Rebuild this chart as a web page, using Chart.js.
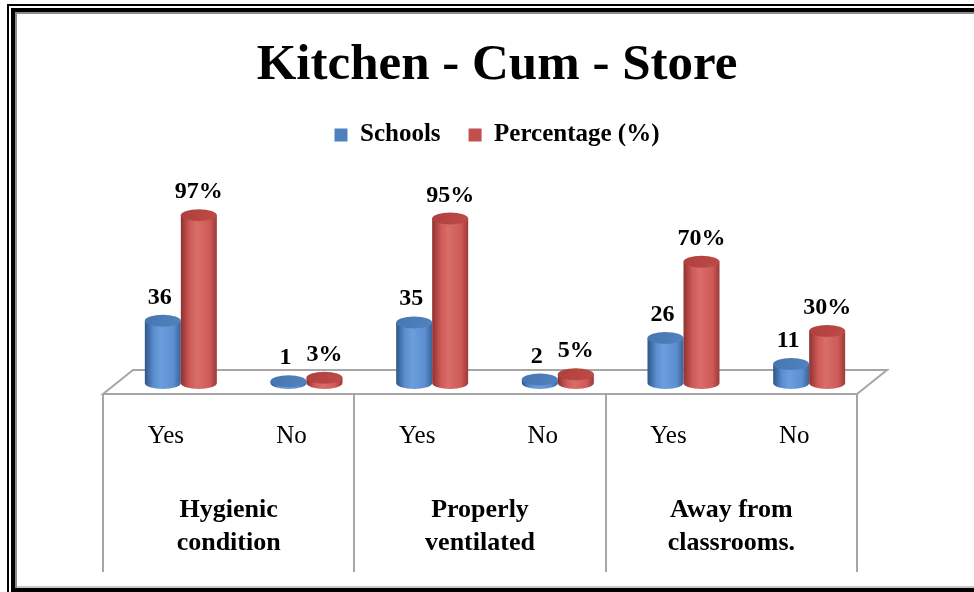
<!DOCTYPE html>
<html><head><meta charset="utf-8">
<script src="https://cdn.jsdelivr.net/npm/chart.js@4.4.1/dist/chart.umd.min.js"></script>
<style>html,body{margin:0;padding:0;background:#fff;overflow:hidden}#wrap{width:974px;height:592px;position:relative}</style>
</head><body><div id="wrap"><canvas id="c" width="974" height="592"></canvas></div>
<script>
const titleText = 'Kitchen - Cum - Store';
const answers = ['Yes', 'No', 'Yes', 'No', 'Yes', 'No'];
const groups = [['Hygienic', 'condition'], ['Properly', 'ventilated'], ['Away from', 'classrooms.']];
const seriesNames = ['Schools', 'Percentage (%)'];
const schools = [36, 1, 35, 2, 26, 11];
const percentage = [97, 3, 95, 5, 70, 30];

const SERIF = '"Liberation Serif", "DejaVu Serif", serif';
const DEPTH_X = 30, DEPTH_Y = 24, FRONT = 11;
const SHIFT = 15, RY = 6;

const framePlugin = {
  id: 'frame',
  beforeDraw(chart) {
    const ctx = chart.ctx, W = chart.width, H = chart.height;
    ctx.save();
    ctx.fillStyle = '#fff';
    ctx.fillRect(0, 0, W, H);
    ctx.fillStyle = '#000';
    ctx.fillRect(7, 4, 2, H - 4);
    ctx.fillRect(7, 4, W - 7, 2);
    ctx.fillRect(11, 8, 4, H - 8);
    ctx.fillRect(11, 8, W - 11, 4);
    ctx.fillRect(11, 588, W - 11, 4);
    ctx.fillStyle = '#8c8c8c';
    ctx.fillRect(15, 12, 2, 576);
    ctx.fillRect(15, 12, W - 15, 2);
    ctx.fillStyle = '#c8c8c8';
    ctx.fillRect(17, 586, W - 17, 2);
    ctx.restore();
  }
};

const palettes = [
  {dark: '#2f5687', mid: '#5b8fd0', light: '#6c9edc', right: '#3a6398', top: '#4676b2', topLight: '#5383bf'},
  {dark: '#8e3230', mid: '#cf5a57', light: '#d86d6a', right: '#9c3b39', top: '#b0403c', topLight: '#bd4b47'}
];

function drawCylinder(ctx, cx, top, base, rx, pal) {
  const g = ctx.createLinearGradient(cx - rx, 0, cx + rx, 0);
  g.addColorStop(0, pal.dark);
  g.addColorStop(0.25, pal.mid);
  g.addColorStop(0.45, pal.light);
  g.addColorStop(0.8, pal.mid);
  g.addColorStop(1, pal.right);
  ctx.beginPath();
  ctx.moveTo(cx - rx, top);
  ctx.lineTo(cx - rx, base);
  ctx.ellipse(cx, base, rx, RY, 0, Math.PI, 0, true);
  ctx.lineTo(cx + rx, top);
  ctx.closePath();
  ctx.fillStyle = g;
  ctx.fill();
  const tg = ctx.createLinearGradient(cx - rx, top - RY, cx + rx, top + RY);
  tg.addColorStop(0, pal.top);
  tg.addColorStop(1, pal.topLight);
  ctx.beginPath();
  ctx.ellipse(cx, top, rx, RY, 0, 0, Math.PI * 2);
  ctx.fillStyle = tg;
  ctx.fill();
}

const cylPlugin = {
  id: 'cyl',
  beforeDatasetsDraw(chart) {
    const ctx = chart.ctx, a = chart.chartArea;
    const L = a.left, R = a.right, B = a.bottom;
    ctx.save();
    // floor
    ctx.beginPath();
    ctx.moveTo(L, B + FRONT);
    ctx.lineTo(L + DEPTH_X, B + FRONT - DEPTH_Y);
    ctx.lineTo(R + DEPTH_X, B + FRONT - DEPTH_Y);
    ctx.lineTo(R, B + FRONT);
    ctx.closePath();
    ctx.fillStyle = '#fff';
    ctx.fill();
    ctx.strokeStyle = '#a6a6a6';
    ctx.lineWidth = 2;
    ctx.stroke();
    // dividers
    const xs = chart.scales.x;
    for (let k = 0; k <= 3; k++) {
      const x = Math.round(L + k * (R - L) / 3);
      ctx.beginPath();
      ctx.moveTo(x, B + FRONT);
      ctx.lineTo(x, 572);
      ctx.stroke();
    }
    // cylinders
    chart.data.datasets.forEach((ds, di) => {
      const meta = chart.getDatasetMeta(di);
      meta.data.forEach((el) => {
        drawCylinder(ctx, el.x + SHIFT, el.y, el.base, el.width / 2, palettes[di]);
      });
    });
    // value labels
    ctx.fillStyle = '#000';
    ctx.font = 'bold 24px ' + SERIF;
    ctx.textAlign = 'center';
    ctx.textBaseline = 'alphabetic';
    chart.data.datasets.forEach((ds, di) => {
      const meta = chart.getDatasetMeta(di);
      meta.data.forEach((el, i) => {
        const txt = di === 1 ? ds.data[i] + '%' : String(ds.data[i]);
        const dx = di === 0 ? -3 : 0;
        ctx.fillText(txt, el.x + SHIFT + dx, el.y - 17);
      });
    });
    // group labels
    ctx.font = 'bold 26px ' + SERIF;
    groups.forEach((lines, gi) => {
      const x = (xs.getPixelForValue(gi * 2) + xs.getPixelForValue(gi * 2 + 1)) / 2;
      ctx.fillText(lines[0], x, 517);
      ctx.fillText(lines[1], x, 550);
    });
    ctx.restore();
    return false;
  }
};

new Chart(document.getElementById('c'), {
  type: 'bar',
  data: {
    labels: answers,
    datasets: [
      {label: seriesNames[0], data: schools, backgroundColor: '#4f81bd'},
      {label: seriesNames[1], data: percentage, backgroundColor: '#c0504d'}
    ]
  },
  options: {
    responsive: false,
    animation: false,
    devicePixelRatio: 1,
    layout: {padding: {left: 20, right: 0, top: 0, bottom: 0}},
    datasets: {bar: {categoryPercentage: 0.573, barPercentage: 1}},
    plugins: {
      title: {
        display: true, text: titleText, color: '#000',
        font: {family: SERIF, size: 51, weight: 'bold', lineHeight: 1.1},
        padding: {top: 38, bottom: 0.4}
      },
      legend: {
        display: true,
        labels: {
          color: '#000', boxWidth: 13, boxHeight: 13, padding: 28,
          font: {family: SERIF, size: 25, weight: 'bold'}
        }
      },
      tooltip: {enabled: false}
    },
    scales: {
      x: {
        grid: {display: false, drawTicks: false}, border: {display: false},
        ticks: {color: '#000', font: {family: SERIF, size: 25}, padding: 38, maxRotation: 0, autoSkip: false},
        afterFit(s) { s.height = 209; }
      },
      y: {
        min: 0, max: 130.3, position: 'left',
        grid: {display: false}, border: {display: false}, ticks: {display: false},
        afterFit(s) { s.width = 83; }
      },
      yr: {
        type: 'linear', min: 0, max: 130.3, position: 'right',
        grid: {display: false}, border: {display: false}, ticks: {display: false},
        afterFit(s) { s.width = 117; }
      }
    }
  },
  plugins: [framePlugin, cylPlugin]
});
</script></body></html>
